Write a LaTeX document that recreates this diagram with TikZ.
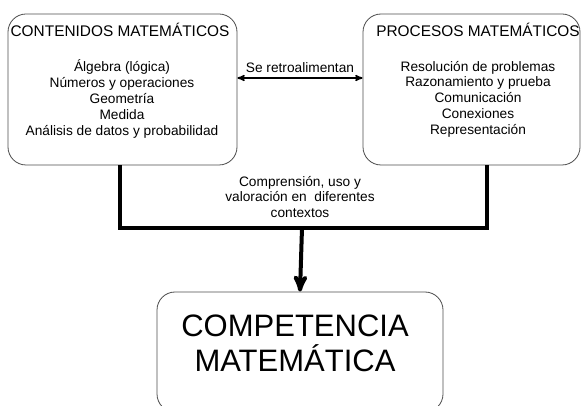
\documentclass[tikz,border=0pt]{standalone}
\usepackage{fontspec}
\setmainfont{Liberation Sans}
\usetikzlibrary{arrows,calc,positioning}
\tikzset{
  caja/.style={draw=black!70, line width=.8pt, rounded corners=18pt},
  titulo/.style={font=\fontsize{15.4}{17}\selectfont},
  lista/.style={font=\fontsize{13.7}{15.8}\selectfont, align=center},
  grueso/.style={line width=4pt},
}

\begin{document}
\begin{tikzpicture}[x=1pt,y=-1pt]
\useasboundingbox (0,0) rectangle (584,406);
\node[caja, minimum width=229pt, minimum height=151pt] (cont) at (122.5,89.5) {};
\node[caja, minimum width=217pt, minimum height=151pt] (proc) at (471.5,89.5) {};
\node[caja, minimum width=286pt, minimum height=120pt] (comp) at (300,352) {};
\node[titulo] (contT) at (120,30) {CONTENIDOS MATEMÁTICOS};
\node[titulo] (procT) at (478,30) {PROCESOS MATEMÁTICOS};
\node[lista] (contL) at (122,99) {Álgebra (lógica)\\Números y operaciones\\Geometría\\Medida\\Análisis de datos y probabilidad};
\node[lista] (procL) at (478,99) {Resolución de problemas\\Razonamiento y prueba\\Comunicación\\Conexiones\\Representación};
\node[font=\fontsize{31}{35}\selectfont, align=center] (compT) at (295,343) {COMPETENCIA\\MATEMÁTICA};
% retroalimentacion
\draw[line width=1.5pt, <->, >=stealth'] ([yshift=11.5]cont.east) -- ([yshift=11.5]proc.east -| proc.west)
  node[midway, above, yshift=1, lista] (retro) {Se retroalimentan};
% union hacia la competencia
\coordinate (union) at (302,228);
\draw[grueso] ([xshift=-2.5]cont.south) |- (union) -| ([xshift=15.5]proc.south);
\draw[grueso, ->, >=stealth'] (union) -- (comp.north);
\node[lista] (uso) at (300,197) {Comprensión, uso y\\valoración en~ diferentes\\contextos};
\end{tikzpicture}
\end{document}
